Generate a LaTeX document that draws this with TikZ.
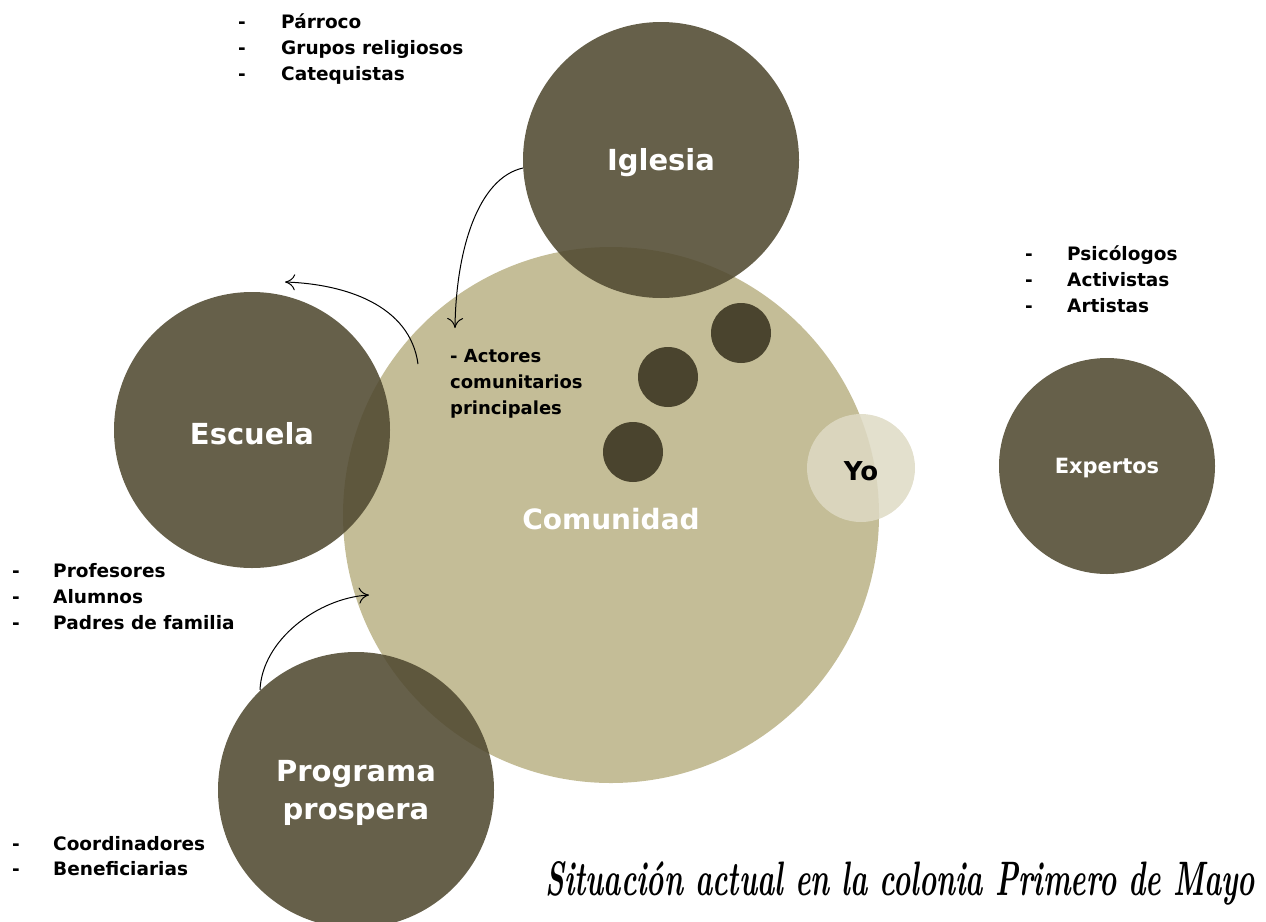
\documentclass[tikz,border=0pt]{standalone}
\usepackage{fontspec}
\usepackage{graphicx}
\usetikzlibrary{arrows.meta}
\setmainfont{DejaVu Sans}
\definecolor{darkc}{RGB}{81,74,49}
\definecolor{tanc}{RGB}{196,189,151}
\definecolor{dotc}{RGB}{74,68,46}
\definecolor{yoc}{RGB}{222,218,196}
\tikzset{
  bigc/.style={circle, fill=darkc, fill opacity=0.88, inner sep=0pt},
  bigt/.style={text=white, font=\fontsize{29}{38}\selectfont\bfseries, align=center, inner sep=0pt},
  dotn/.style={circle, fill=dotc, inner sep=0pt, minimum size=60pt},
  listt/.style={anchor=base west, font=\fontsize{18.5}{26}\selectfont\bfseries, inner sep=0pt},
  conn/.style={draw=black, line width=1pt, -{To[length=10pt,width=16pt]}},
}
\begin{document}
\begin{tikzpicture}[x=1pt,y=-1pt]
\useasboundingbox (0,0) rectangle (1266,921);
% community
\node[circle, fill=tanc, minimum size=536pt, inner sep=0pt] (com) at (611,515) {};
\node[bigt, font=\fontsize{28}{36}\selectfont\bfseries] (comt) at (611,519) {Comunidad};
% small dots
\node[dotn] (d1) at (741,333) {};
\node[dotn] (d2) at (668,377) {};
\node[dotn] (d3) at (633,452) {};
% Yo
\node[circle, fill=yoc, fill opacity=0.85, minimum size=108pt, inner sep=0pt] (yo) at (861,468) {};
\node[font=\fontsize{26}{30}\selectfont\bfseries, inner sep=0pt] (yot) at (861,471) {Yo};
% big dark circles
\node[bigc, minimum size=276pt] (igl) at (661,160) {};
\node[bigt] (iglt) at (661,163) {Iglesia};
\node[bigc, minimum size=276pt] (esc) at (252,430) {};
\node[bigt] (esct) at (252,434) {Escuela};
\node[bigc, minimum size=276pt] (pro) at (356,790) {};
\node[bigt] (prot) at (356,793) {Programa\\prospera};
\node[bigc, minimum size=216pt] (exp) at (1107,466) {};
\node[bigt, font=\fontsize{21}{26}\selectfont\bfseries] (expt) at (1107,468) {Expertos};
% actors text
\node[listt, anchor=west, align=left, font=\fontsize{18}{26}\selectfont\bfseries] (act) at (450,384) {- Actores\\comunitarios\\principales};
% lists
\node[listt] (l1d) at (238,28) {-};
\node[listt] (l1) at (281,28) {Párroco};
\node[listt] (l2d) at (238,54) {-};
\node[listt] (l2) at (281,54) {Grupos religiosos};
\node[listt] (l3d) at (238,80) {-};
\node[listt] (l3) at (281,80) {Catequistas};
\node[listt] (r1d) at (1025,260) {-};
\node[listt] (r1) at (1067,260) {Psicólogos};
\node[listt] (r2d) at (1025,286) {-};
\node[listt] (r2) at (1067,286) {Activistas};
\node[listt] (r3d) at (1025,312) {-};
\node[listt] (r3) at (1067,312) {Artistas};
\node[listt] (e1d) at (12,577) {-};
\node[listt] (e1) at (53,577) {Profesores};
\node[listt] (e2d) at (12,603) {-};
\node[listt] (e2) at (53,603) {Alumnos};
\node[listt] (e3d) at (12,629) {-};
\node[listt] (e3) at (53,629) {Padres de familia};
\node[listt] (p1d) at (12,850) {-};
\node[listt] (p1) at (53,850) {Coordinadores};
\node[listt] (p2d) at (12,875) {-};
\node[listt] (p2) at (53,875) {Beneficiarias};
% arrows
\coordinate (a1s) at (523,168);
\coordinate (a1e) at (455,328);
\coordinate (a2s) at (418,364);
\coordinate (a2e) at (285,282);
\coordinate (a3s) at (260,690);
\coordinate (a3e) at (369,595);
\draw[conn] (a1s) .. controls (478,178) and (456,250) .. (a1e);
\draw[conn] (a2s) .. controls (410,305) and (345,284) .. (a2e);
\draw[conn] (a3s) .. controls (262,640) and (318,598) .. (a3e);
% title
\node[anchor=base west, inner sep=0pt] (title) at (545,895) {\resizebox{710pt}{34pt}{\fontspec{Latin Modern Roman}\bfseries\itshape\fontsize{40}{44}\selectfont Situación actual en la colonia Primero de Mayo}};
\end{tikzpicture}
\end{document}
